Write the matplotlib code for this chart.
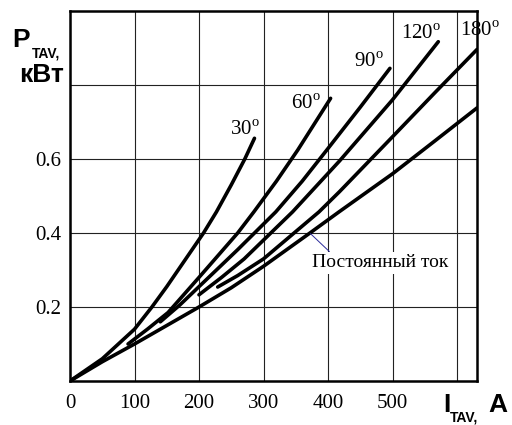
import matplotlib
matplotlib.use("Agg")
import matplotlib.pyplot as plt

plt.rcParams.update({
    "font.family": ["Liberation Serif", "DejaVu Serif"],
    "mathtext.fontset": "custom",
    "mathtext.rm": "Liberation Serif",
    "font.size": 15,
})

# Средняя мощность потерь от среднего тока для разных углов проводимости
i_30 = [0, 50, 100, 127, 150, 207, 227, 250, 271, 286]
p_30 = [0, 0.06, 0.14, 0.20, 0.255, 0.40, 0.457, 0.53, 0.60, 0.656]

i_60 = [90, 120, 152, 200, 260, 285, 320, 353, 404]
p_60 = [0.10, 0.14, 0.185, 0.28, 0.40, 0.457, 0.54, 0.624, 0.764]

i_90 = [140, 170, 200, 260, 319, 360, 398, 450, 496]
p_90 = [0.16, 0.205, 0.255, 0.355, 0.457, 0.54, 0.624, 0.74, 0.845]

i_120 = [200, 235, 270, 345, 418, 500, 571]
p_120 = [0.233, 0.28, 0.33, 0.457, 0.595, 0.76, 0.917]

i_180 = [229, 260, 300, 386, 418, 500, 565, 631]
p_180 = [0.254, 0.285, 0.33, 0.457, 0.512, 0.66, 0.778, 0.896]

i_dc = [0, 50, 100, 150, 200, 250, 300, 372, 417, 500, 565, 631]
p_dc = [0, 0.052, 0.10, 0.15, 0.20, 0.252, 0.31, 0.40, 0.457, 0.56, 0.648, 0.738]

curves = [(i_30, p_30), (i_60, p_60), (i_90, p_90),
          (i_120, p_120), (i_180, p_180), (i_dc, p_dc)]

angle_labels = ["30", "60", "90", "120", "180"]
angle_label_pos = [(271, 0.678), (366, 0.749), (463, 0.862), (544, 0.938), (636, 0.945)]

x_ticks = [0, 100, 200, 300, 400, 500, 600]
x_tick_labels = ["0", "100", "200", "300", "400", "500", ""]
y_ticks = [0.2, 0.4, 0.6, 0.8]
y_tick_labels = ["0.2", "0.4", "0.6", ""]

fig = plt.figure(figsize=(5.12, 4.25), dpi=100)
ax = fig.add_axes([70 / 512, 44 / 425, 407 / 512, 370 / 425])

for xs, ys in curves:
    ax.plot(xs, ys, color="black", lw=2.6, solid_capstyle="round",
            solid_joinstyle="round", zorder=3)

for lab, (x, y) in zip(angle_labels, angle_label_pos):
    ax.text(x, y, lab + r"$^{\mathrm{o}}$", ha="center", va="center",
            fontsize=15, clip_on=False, zorder=4)

# подпись кривой постоянного тока с выноской
ax.plot([373, 402], [0.398, 0.35], color="#2a2a9a", lw=0.7, zorder=4)
ax.text(481, 0.319, "Постоянный ток", ha="center", va="center", fontsize=14,
        bbox=dict(facecolor="white", edgecolor="none", pad=1.5), zorder=5)

ax.set_xlim(0, 631)
ax.set_ylim(0, 1.0)
ax.set_xticks(x_ticks)
ax.set_xticklabels(x_tick_labels)
ax.set_yticks(y_ticks)
ax.set_yticklabels(y_tick_labels)
ax.tick_params(length=0, labelsize=15)
ax.tick_params(axis="x", pad=9)
ax.tick_params(axis="y", pad=6)
ax.grid(True, color="#222222", lw=0.8, zorder=1)
for sp in ax.spines.values():
    sp.set_linewidth(1.8)

# обозначения осей
sans = ["Liberation Sans", "DejaVu Sans"]
fig.text(12 / 512, 1 - 47 / 425, "P", family=sans, weight="bold", fontsize=19,
         ha="left", va="baseline")
fig.text(32 / 512, 1 - 58 / 425, "TAV,", family=sans, weight="bold", fontsize=10,
         ha="left", va="baseline")
fig.text(64 / 512, 1 - 82 / 425, "кВт", family=sans, weight="bold", fontsize=19,
         ha="right", va="baseline")
fig.text(443 / 512, 1 - 412 / 425, "I", family=sans, weight="bold", fontsize=19,
         ha="left", va="baseline")
fig.text(450 / 512, 1 - 421 / 425, "TAV,", family=sans, weight="bold", fontsize=10,
         ha="left", va="baseline")
fig.text(488 / 512, 1 - 412 / 425, "A", family=sans, weight="bold", fontsize=19,
         ha="left", va="baseline")

fig.savefig("out.png", dpi=100, facecolor="white")
